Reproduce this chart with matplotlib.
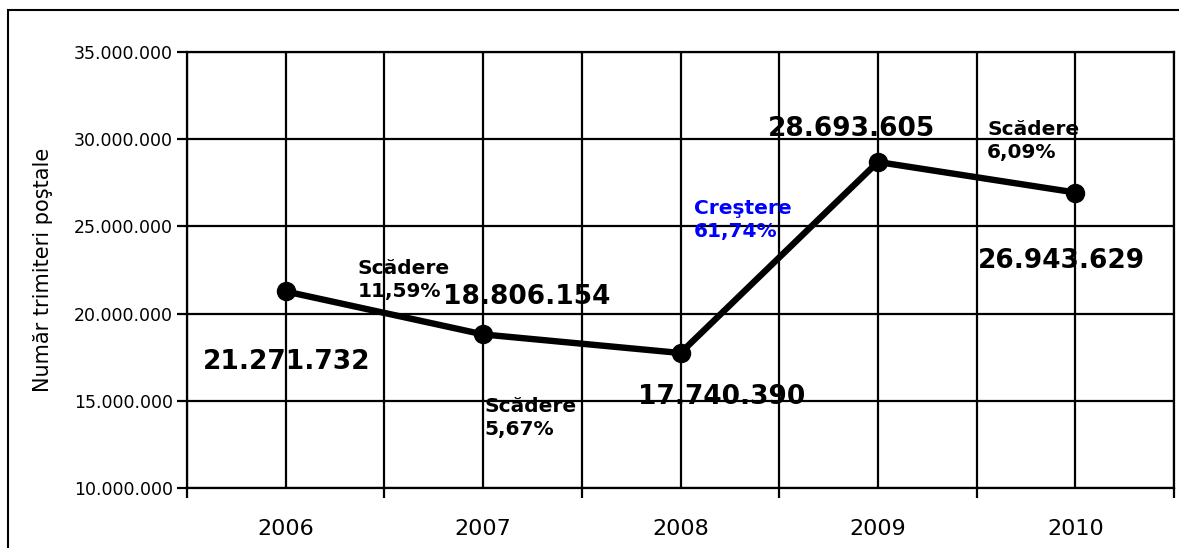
import matplotlib
matplotlib.use("Agg")
import matplotlib.pyplot as plt
from matplotlib.patches import Rectangle
from matplotlib.ticker import FuncFormatter

years = ["2006", "2007", "2008", "2009", "2010"]
values = [21271732, 18806154, 17740390, 28693605, 26943629]
change_labels = ["Scădere\n11,59%", "Scădere\n5,67%", "Creştere\n61,74%", "Scădere\n6,09%"]
change_colors = ["black", "black", "#0000FF", "black"]
y_ticks = [10000000, 15000000, 20000000, 25000000, 30000000, 35000000]
y_label = "Număr trimiteri poştale"


def dotfmt(v, pos=None):
    return f"{int(v):,}".replace(",", ".")


plt.rcParams['font.family'] = ['DejaVu Sans']
fig = plt.figure(figsize=(11.79, 5.48), dpi=100)
ax = fig.add_axes([187 / 1179, 1 - 488 / 548, (1174 - 187) / 1179, (488 - 52) / 548])

x = list(range(len(years)))
ax.plot(x, values, color="black", lw=4.6, marker="o", markersize=13,
        solid_joinstyle="round", zorder=5, clip_on=False)

ax.set_xlim(-0.5, len(years) - 0.5)
ax.set_ylim(y_ticks[0], y_ticks[-1])
ax.set_yticks(y_ticks)
ax.yaxis.set_major_formatter(FuncFormatter(dotfmt))
ax.set_xticks(x)
ax.set_xticklabels(years)
ax.set_xticks([i - 0.5 for i in range(len(years) + 1)], minor=True)

ax.tick_params(axis="x", which="major", length=0, labelsize=16, pad=22)
ax.tick_params(axis="x", which="minor", length=7, width=1.6, direction="out")
ax.tick_params(axis="y", which="major", length=7, width=1.6, labelsize=12.5, pad=3)

ax.grid(True, which="major", axis="both", color="black", lw=1.6)
ax.grid(True, which="minor", axis="x", color="black", lw=1.6)
ax.set_axisbelow(True)
for s in ax.spines.values():
    s.set_linewidth(1.6)
    s.set_color("black")

ax.set_ylabel(y_label, fontsize=15)
ax.yaxis.set_label_coords(-0.136, 0.5)

# value labels
val_pos = [(-0.419, 17.22e6), (0.797, 20.95e6), (1.785, 15.22e6), (2.443, 30.58e6), (3.507, 23.02e6)]
for (tx, ty), v in zip(val_pos, values):
    ax.text(tx, ty, dotfmt(v), fontsize=19, fontweight="bold", ha="left", va="center", zorder=6)

chg_pos = [(0.366, 21.93e6), (1.005, 14.01e6), (2.068, 25.37e6), (3.553, 29.90e6)]
for (tx, ty), lab, c in zip(chg_pos, change_labels, change_colors):
    ax.text(tx, ty, lab, fontsize=14.5, fontweight="bold", ha="left", va="center",
            color=c, linespacing=1.25, zorder=6)

fig.patches.append(Rectangle((8 / 1179, -0.05), 1.1, 1 - 10 / 548 + 0.05,
                             transform=fig.transFigure, fill=False,
                             edgecolor="black", lw=1.5, zorder=0))

fig.savefig("out.png", dpi=100)
